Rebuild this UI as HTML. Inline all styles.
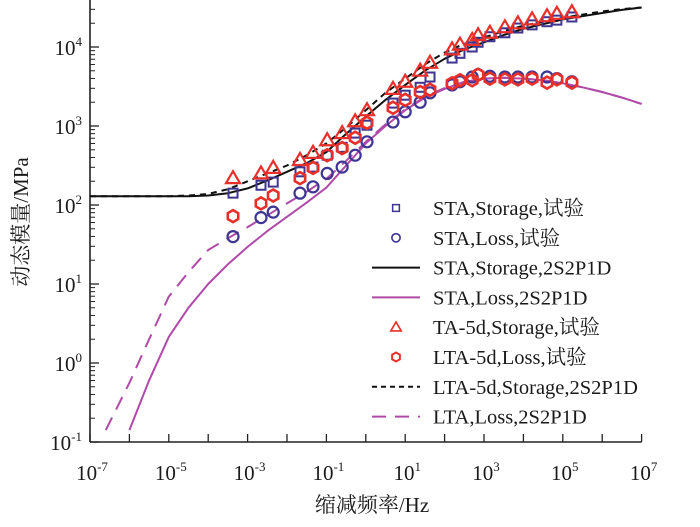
<!DOCTYPE html>
<html><head><meta charset="utf-8"><style>
html,body{margin:0;padding:0;background:#fff;}
svg{display:block;}
text{font-family:"Liberation Serif","Noto Serif CJK SC",serif;fill:#1a1a1a;}
</style></head><body>
<svg id="chart" width="700" height="527" viewBox="0 0 700 527" xmlns="http://www.w3.org/2000/svg">
<g id="axes"></g>
<g id="curves"></g>
<g id="points"></g>
<g id="legend"></g>
<text transform="translate(28,222) rotate(-90)" text-anchor="middle" font-size="21">动态模量/MPa</text>
<text x="372" y="512" text-anchor="middle" font-size="21">缩减频率/Hz</text>
</svg>
<script>
// log10 frequency / log10 modulus arrays
const xTicks = [-7,-5,-3,-1,1,3,5,7];
const yTicks = [-1,0,1,2,3,4];
const curveF = [-7,-6.6,-6,-5.5,-5,-4.5,-4,-3.5,-3,-2.5,-2,-1.5,-1,-0.5,0,0.5,1,1.5,2,2.5,3,3.5,4,4.5,5,5.5,6,6.5,7];
const staStorageCurve = [2.11,2.11,2.11,2.11,2.11,2.11,2.12,2.15,2.21,2.31,2.42,2.53,2.67,2.9,3.12,3.33,3.52,3.7,3.85,3.97,4.06,4.15,4.23,4.29,4.35,4.39,4.43,4.47,4.5];
const staLossCurve = [-1.3,-1.1,-0.85,-0.22,0.33,0.7,1.0,1.25,1.47,1.67,1.85,2.03,2.22,2.5,2.78,3.0,3.2,3.36,3.47,3.56,3.6,3.61,3.6,3.58,3.54,3.49,3.43,3.36,3.28];
const ltaStorageCurve = [2.11,2.11,2.11,2.11,2.11,2.12,2.14,2.2,2.3,2.4,2.5,2.63,2.78,2.98,3.2,3.42,3.6,3.78,3.93,4.04,4.12,4.2,4.27,4.32,4.37,4.41,4.45,4.48,4.5];
const ltaLossCurve = [-1.3,-0.85,-0.25,0.3,0.84,1.15,1.43,1.58,1.72,1.87,2.02,2.17,2.33,2.56,2.8,3.02,3.21,3.37,3.48,3.56,3.6,3.61,3.6,3.58,3.54,3.49,3.43,3.36,3.28];
const testF = [-3.37,-2.66,-2.35,-1.67,-1.34,-0.98,-0.6,-0.27,0.03,0.69,1.0,1.38,1.63,2.19,2.39,2.7,2.85,3.15,3.53,3.86,4.22,4.6,4.85,5.23];
const staStorage = [2.15,2.25,2.29,2.42,2.48,2.63,2.73,2.91,3.01,3.29,3.39,3.49,3.62,3.86,3.92,4.0,4.06,4.13,4.18,4.24,4.28,4.32,4.34,4.38];
const staLoss = [1.6,1.84,1.91,2.15,2.23,2.4,2.48,2.63,2.8,3.05,3.18,3.3,3.42,3.52,3.56,3.62,3.65,3.63,3.62,3.62,3.62,3.62,3.6,3.56];
const taStorage = [2.34,2.4,2.47,2.57,2.66,2.82,2.91,3.06,3.2,3.47,3.56,3.7,3.8,3.97,4.03,4.09,4.15,4.18,4.25,4.3,4.35,4.39,4.42,4.44];
const ltaLoss = [1.86,2.02,2.12,2.34,2.47,2.63,2.72,2.85,3.04,3.23,3.33,3.43,3.46,3.54,3.58,3.58,3.65,3.6,3.59,3.59,3.6,3.55,3.59,3.55];

const NS="http://www.w3.org/2000/svg";
const X = f => 90 + (f + 7) * 39.4;
const Y = v => 363 - v * 79;
const clipBot = Y(-1);
function mk(tag, attrs, parent){const e=document.createElementNS(NS,tag);for(const k in attrs)e.setAttribute(k,attrs[k]);parent.appendChild(e);return e;}
const axes=document.getElementById('axes');
let e=mk('line',{x1:X(-7),y1:Y(-1),x2:X(7),y2:Y(-1),stroke:'#222','stroke-width':1.6},axes);


e=mk('line',{x1:X(-7),y1:Y(-1),x2:X(-7),y2:0,stroke:'#222','stroke-width':1.6},axes);


for(let d=-7; d<=7; d++){
  e=mk('line',{x1:X(d),y1:Y(-1),x2:X(d),y2:Y(-1)-8,stroke:'#222','stroke-width':1.3},axes);
  
  
}
for(let d=-1; d<=4.6; d++){
  e=mk('line',{x1:X(-7),y1:Y(d),x2:X(-7)+9,y2:Y(d),stroke:'#222','stroke-width':1.3},axes);
  
  
  for(let m=2;m<=9;m++){const yy=Y(d+Math.log10(m)); if(yy<1)continue;
    e=mk('line',{x1:X(-7),y1:yy,x2:X(-7)+5,y2:yy,stroke:'#222','stroke-width':1},axes);
    
    
  }
}
xTicks.forEach(t=>{
  const tx=mk('text',{x:X(t)+2,y:Y(-1)+38,'text-anchor':'middle','font-size':21},axes);
  
  
  tx.innerHTML='10<tspan font-size="13" dy="-9">'+t+'</tspan>';
});
yTicks.forEach(t=>{
  const tx=mk('text',{x:X(-7)-8,y:Y(t)+8,'text-anchor':'end','font-size':21},axes);
  
  
  tx.innerHTML='10<tspan font-size="13" dy="-9">'+t+'</tspan>';
});
const curves=document.getElementById('curves');
function curve(vals,color,dash,name){
  const pts=[];
  curveF.forEach((f,i)=>{const y=Y(vals[i]); if(y<=clipBot+2) pts.push(X(f).toFixed(1)+','+y.toFixed(1));});
  const p=mk('polyline',{points:pts.join(' '),fill:'none',stroke:color,'stroke-width':2,'stroke-dasharray':dash,'stroke-linejoin':'round'},curves);
  
  
}
curve(ltaLossCurve,'#b04aa8','14 9','lta-loss-curve');
curve(staLossCurve,'#b04aa8','none','sta-loss-curve');
curve(staStorageCurve,'#111','none','sta-storage-curve');
curve(ltaStorageCurve,'#111','6 5','lta-storage-curve');

const blue='#3d3591', red='#e8302a';
function marker(type,x,y,parent){
  let m;
  if(type==='sq') m=mk('rect',{x:x-4.5,y:y-4.5,width:9,height:9,fill:'none',stroke:blue,'stroke-width':2},parent);
  else if(type==='ci') m=mk('circle',{cx:x,cy:y,r:5.5,fill:'none',stroke:blue,'stroke-width':2.2},parent);
  else if(type==='tri') m=mk('polygon',{points:`${x},${y-7} ${x+7},${y+5} ${x-7},${y+5}`,fill:'none',stroke:red,'stroke-width':2.2},parent);
  else { const p=[];for(let k=0;k<6;k++){const a=Math.PI/6+k*Math.PI/3;p.push((x+6*Math.cos(a)).toFixed(1)+','+(y+6*Math.sin(a)).toFixed(1));}
    m=mk('polygon',{points:p.join(' '),fill:'none',stroke:red,'stroke-width':2.6},parent);}
  return m;
}
const points=document.getElementById('points');
function series(vals,type,name){
  testF.forEach((f,i)=>{
    const m=marker(type,X(f),Y(vals[i]),points);
    
    
  });
}
series(staStorage,'sq','sta-storage-point');
series(staLoss,'ci','sta-loss-point');
series(taStorage,'tri','ta5d-storage-point');
series(ltaLoss,'hex','lta5d-loss-point');

const legend=document.getElementById('legend');
const items=[
 ['sq','STA,Storage,试验'],['ci','STA,Loss,试验'],['line:#111:none','STA,Storage,2S2P1D'],['line:#b04aa8:none','STA,Loss,2S2P1D'],
 ['tri','TA-5d,Storage,试验'],['hex','LTA-5d,Loss,试验'],['line:#111:5 4','LTA-5d,Storage,2S2P1D'],['line:#b04aa8:14 9','LTA,Loss,2S2P1D']];
items.forEach((it,i)=>{
  const y=208+i*29.8;
  const g=mk('g',{},legend);
  
  
  if(it[0].startsWith('line')){const [,c,d]=it[0].split(':');
    mk('line',{x1:372,y1:y,x2:420,y2:y,stroke:c,'stroke-width':2,'stroke-dasharray':d},g);}
  else { const m=marker(it[0],396,y,g); m.setAttribute('transform',`translate(${396*0.25},${y*0.25}) scale(0.75)`); }
  const t=mk('text',{x:433,y:y+7,'font-size':20.5},g);
  t.textContent=it[1];
});
</script>
</body></html>
